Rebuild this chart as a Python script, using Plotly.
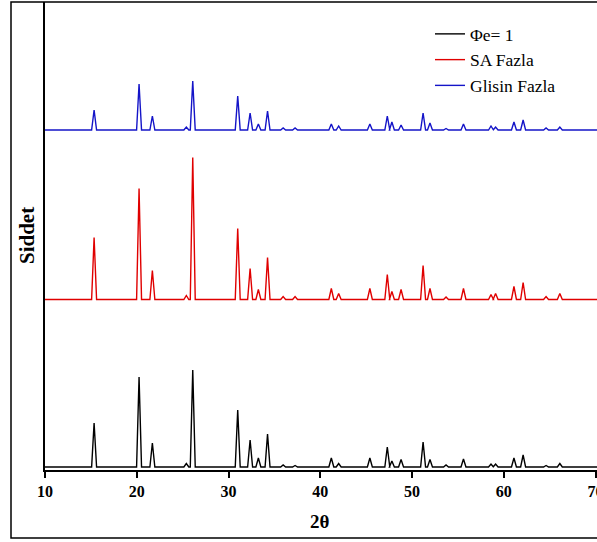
import plotly.graph_objects as go

# Peak positions (2θ, degrees) and heights (arbitrary intensity units)
peak_pos = [15.35, 20.25, 21.7, 25.4, 26.1, 31.0, 32.35, 33.25, 34.25, 35.95, 37.25,
            41.2, 42.0, 45.4, 47.3, 47.8, 48.8, 51.2, 51.95, 53.7, 55.6, 58.6, 59.1,
            61.1, 62.1, 64.6, 66.1]
black_h = [44, 90, 24, 3.5, 97, 57, 27, 9, 33, 2, 1.5,
           9, 3.5, 9, 20, 6, 7.5, 25, 7.5, 2, 8, 3, 3,
           9, 12, 1.5, 3.5]
red_h = [62, 111, 29, 4, 142, 71, 31, 10, 42, 3, 3,
         11, 6, 11, 25, 8, 10, 34, 11, 2.5, 11, 5, 6,
         13, 17, 3, 6]
blue_h = [20, 46, 14, 3, 49, 34, 17, 6, 19, 2, 2,
          6, 4, 6, 14, 8, 5, 17, 7, 1.5, 6, 4, 3,
          8, 10, 2, 3]

series_names = ["Φe= 1", "SA Fazla", "Glisin Fazla"]
series_heights = [black_h, red_h, blue_h]
series_offsets = [0, 167.5, 337]
series_colors = ["#000000", "#e00000", "#1414c8"]

x_start, x_end = 10, 70.2
half_w = 0.27


def build(heights, offset):
    xs, ys = [x_start], [offset]
    for p, h in zip(peak_pos, heights):
        xs += [p - half_w, p, p + half_w]
        ys += [offset, offset + h, offset]
    xs.append(x_end)
    ys.append(offset)
    return xs, ys


fig = go.Figure()
for i, (name, hts, off, col) in enumerate(zip(series_names, series_heights, series_offsets, series_colors)):
    xs, ys = build(hts, off)
    fig.add_trace(go.Scatter(x=xs, y=ys, mode="lines", name=name,
                             line=dict(color=col, width=1.4),
                             legendgroup=str(i)))

W, H = 597, 542
L, R, T, B = 45, 0, 2, 72
pw, ph = W - L - R, H - T - B

fig.update_layout(
    width=W, height=H,
    margin=dict(l=L, r=R, t=T, b=B, autoexpand=False),
    paper_bgcolor="white", plot_bgcolor="white",
    showlegend=True,
    legend=dict(x=(430 - L) / pw, y=(470 - 16) / ph, xanchor="left", yanchor="top",
                font=dict(family="Liberation Serif", size=17.5, color="black"),
                bgcolor="rgba(0,0,0,0)", tracegroupgap=0),
    xaxis=dict(range=[10, 70.15], dtick=10, tick0=10, ticks="outside", ticklen=6,
               tickwidth=1.5, tickcolor="black", showline=True, linecolor="black",
               linewidth=1.5, showgrid=False, zeroline=False, ticklabeloverflow="allow",
               automargin=False,
               tickfont=dict(family="Liberation Serif", size=16, color="black", weight="bold")),
    yaxis=dict(range=[-3, 465], showticklabels=False, ticks="", showline=True,
               linecolor="black", linewidth=1.5, showgrid=False, zeroline=False,
               automargin=False),
    annotations=[
        dict(text="Siddet", xref="paper", yref="paper", x=(27 - L) / pw, y=0.5,
             textangle=-90, showarrow=False, xanchor="center", yanchor="middle",
             font=dict(family="Liberation Serif", size=21, color="black", weight="bold")),
        dict(text="2θ", xref="paper", yref="paper", x=(320 - L) / pw, y=(470 - 521) / ph,
             showarrow=False, xanchor="center", yanchor="middle",
             font=dict(family="Liberation Serif", size=19, color="black", weight="bold")),
    ],
    shapes=[
        dict(type="rect", xref="paper", yref="paper",
             x0=(11 - L) / pw, x1=1.08, y0=(470 - 538) / ph, y1=1.0,
             line=dict(color="black", width=1.5), fillcolor="rgba(0,0,0,0)", layer="above"),
    ],
)

fig.write_html("out.html")
